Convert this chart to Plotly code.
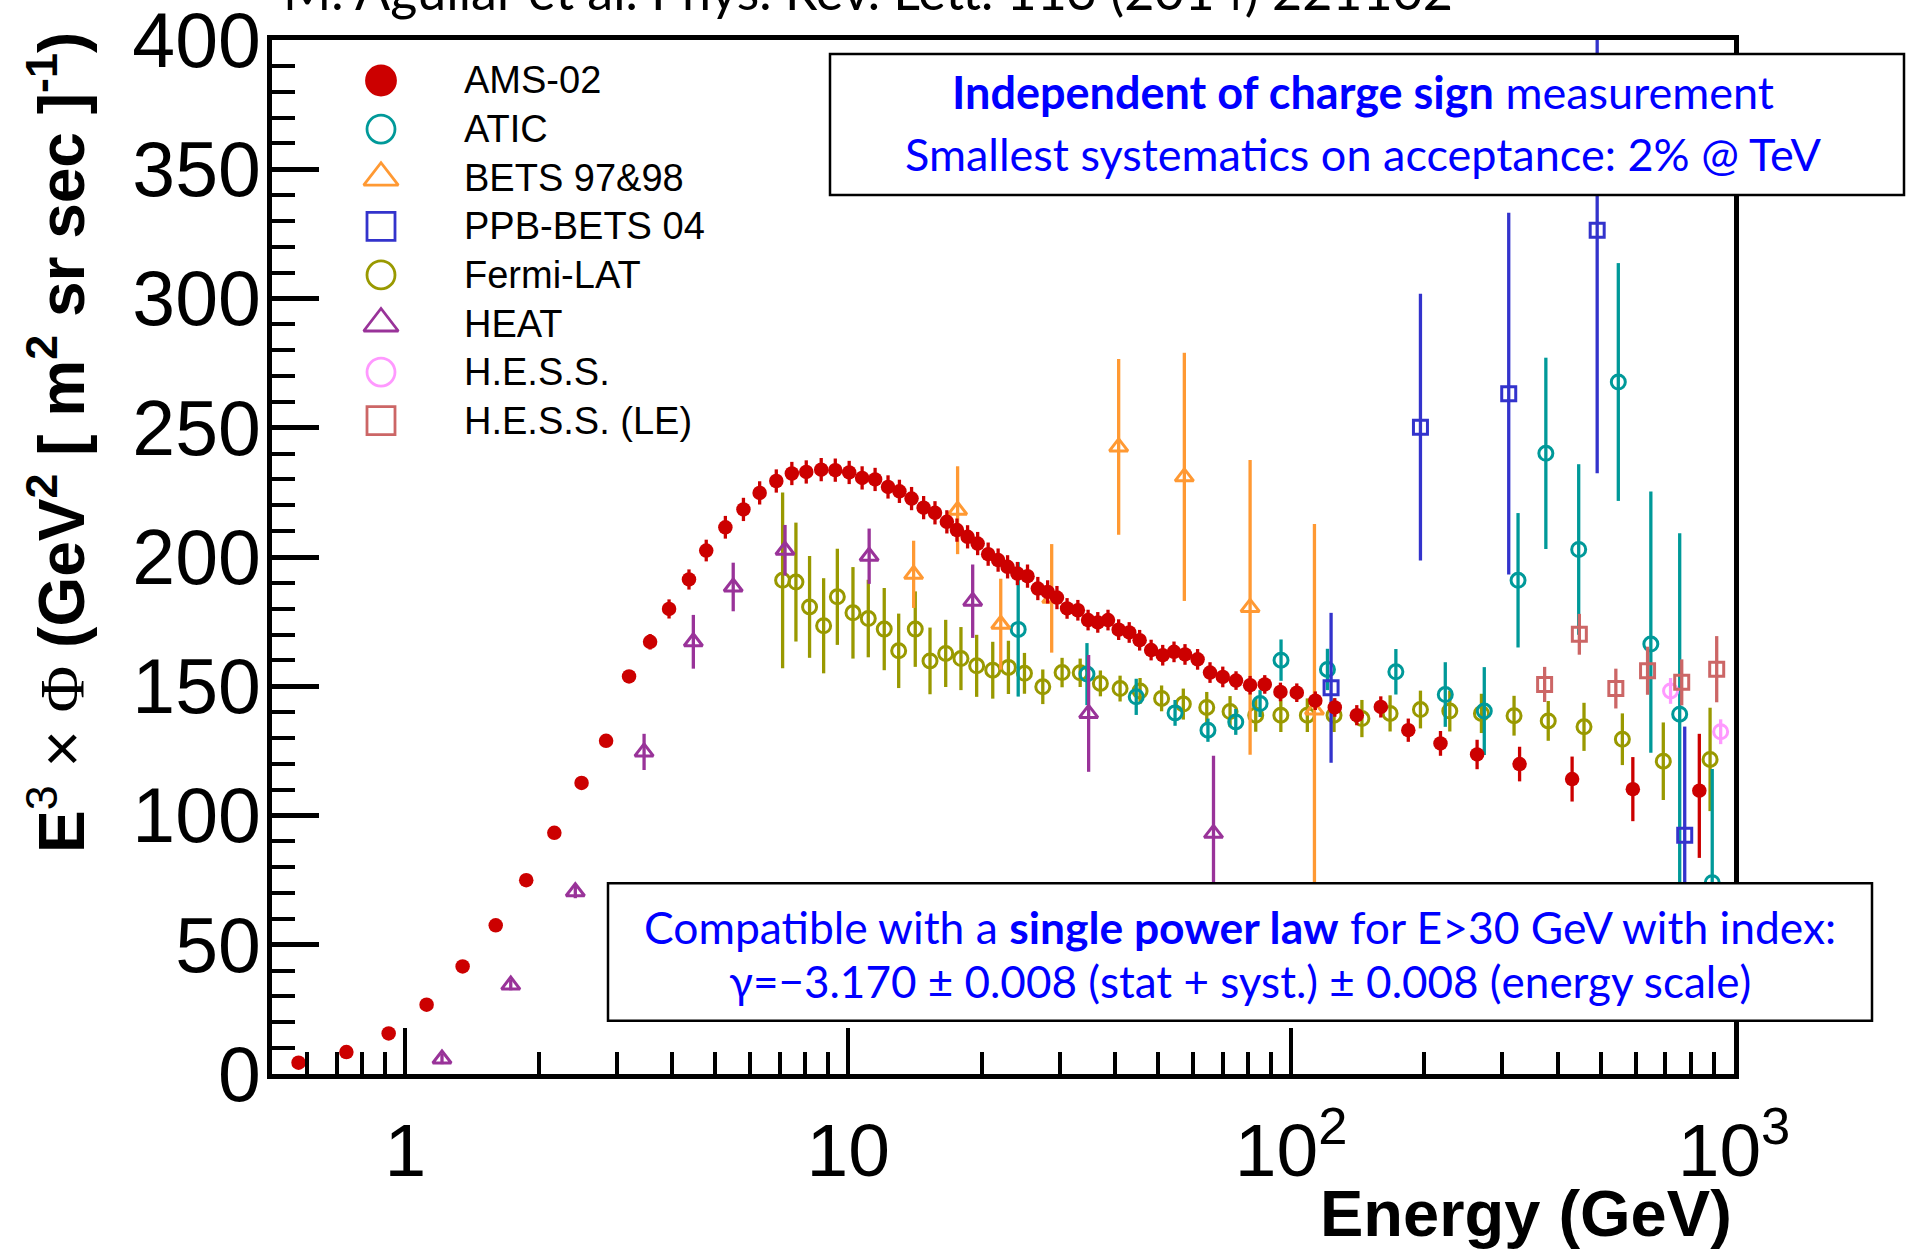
import plotly.graph_objects as go

# ---------------- data (E in GeV, E^3 x flux) ----------------
ams_e = [0.574, 0.736, 0.917, 1.117, 1.347, 1.60, 1.875, 2.17, 2.50, 2.84, 3.20, 3.57, 3.94, 4.37,
         4.78, 5.28, 5.80, 6.31, 6.88, 7.46, 8.04, 8.69, 9.35, 10.05, 10.75, 11.5, 12.3, 13.05,
         13.9, 14.8, 15.7, 16.7, 17.6, 18.6, 19.6, 20.7, 21.8, 22.9, 24.1, 25.4, 26.8, 28.2, 29.6,
         31.2, 33.0, 34.8, 36.6, 38.6, 40.8, 43.1, 45.5, 48.3, 51.3, 54.4, 57.6, 61.5, 65.6, 70.1,
         75.1, 80.8, 87.2, 94.6, 103, 113.4, 125.5, 140.7, 159.4, 183.9, 217.4, 263, 328, 431, 591, 835]
ams_v = [4.4, 8.5, 15.7, 26.8, 41.6, 57.5, 75.0, 93.3, 112.6, 128.9, 153.8, 167.2, 179.9, 191.3,
         202.5, 211.5, 218.4, 224.8, 229.4, 232.3, 232.9, 233.8, 233.6, 232.7, 230.6, 230.0, 227.1, 225.4,
         222.6, 219.1, 217.1, 213.6, 210.4, 207.8, 205.2, 201.1, 198.8, 196.2, 193.6, 192.6, 187.8, 186.5, 184.3,
         180.1, 179.4, 175.6, 174.7, 175.6, 171.9, 170.8, 167.8, 164.0, 162.0, 163.3, 162.3, 160.4, 155.3, 153.6,
         152.2, 150.4, 150.7, 147.8, 147.5, 144.4, 141.8, 138.8, 142.0, 133.0, 127.9, 123.6, 119.9, 114.1, 110.2, 109.6]
ams_err_up = [1.5, 1.5, 1.5, 1.5, 1.5, 1.5, 1.5, 1.5, 1.5, 1.8, 2.0, 3.0, 3.7, 3.9,
              4.2, 4.4, 4.5, 4.5, 4.5, 4.5, 4.5, 4.5, 4.5, 4.5, 4.5, 4.5, 4.5, 4.5,
              4.5, 4.5, 4.5, 4.5, 4.5, 4.5, 4.5, 4.5, 4.5, 4.5, 4.5, 4.5, 4.5, 4.5, 4.5,
              4.0, 4.0, 4.0, 4.0, 4.0, 4.0, 4.0, 4.0, 4.0, 4.0, 4.0, 4.0, 4.0, 4.0, 4.0,
              3.6, 3.6, 3.6, 3.6, 3.6, 3.6, 3.6, 3.9, 4.1, 4.5, 4.8, 5.7, 6.7, 8.7, 12.4, 22.0]
ams_err_down = [1.5, 1.5, 1.5, 1.5, 1.5, 1.5, 1.5, 1.5, 1.5, 1.8, 2.0, 3.0, 3.7, 3.9,
                4.2, 4.4, 4.5, 4.5, 4.5, 4.5, 4.5, 4.5, 4.5, 4.5, 4.5, 4.5, 4.5, 4.5,
                4.5, 4.5, 4.5, 4.5, 4.5, 4.5, 4.5, 4.5, 4.5, 4.5, 4.5, 4.5, 4.5, 4.5, 4.5,
                4.0, 4.0, 4.0, 4.0, 4.0, 4.0, 4.0, 4.0, 4.0, 4.0, 4.0, 4.0, 4.0, 4.0, 4.0,
                3.6, 3.6, 3.6, 3.6, 3.6, 3.6, 3.6, 3.9, 4.1, 4.5, 4.8, 5.7, 6.7, 8.7, 12.4, 26.0]

atic_e = [24.2, 34.6, 44.7, 54.7, 64.9, 75.0, 85.1, 94.9, 120.8, 172.4, 222.9, 273, 325.4, 376, 446, 548, 649, 754, 893]
atic_v = [172.0, 154.7, 145.9, 139.7, 133.0, 136.2, 143.3, 160.1, 156.5, 155.6, 146.8, 140.4, 191.0, 240.1, 202.9, 267.7, 166.3, 139.2, 74.0]
atic_err_up = [26, 12, 7, 5, 4.5, 5, 5.2, 8, 8, 8.8, 12.5, 17, 26, 37, 33, 46, 59, 70, 44]
atic_err_down = [26, 12, 7, 5, 4.5, 5, 5.2, 8, 8, 8.8, 12.5, 17, 26, 37, 33, 46, 42, 70, 44]

bets_e = [14.05, 17.66, 22.1, 28.8, 40.8, 57.4, 80.8, 112.9]
bets_v = [193.3, 218.1, 174.0, 184.0, 242.6, 231.0, 180.5, 140.8]
bets_err = [13, 17, 17.6, 21, 34, 48, 57, 72]

ppb_e = [123.1, 195.9, 310, 491, 774]
ppb_v = [149.4, 250.2, 263.2, 326.4, 92.4]
ppb_err = [29, 51.6, 70, 94, 42]

fermi_e = [7.11, 7.62, 8.18, 8.80, 9.45, 10.25, 11.1, 12.06, 13.0, 14.17, 15.3, 16.6, 17.97, 19.5,
           21.2, 23.0, 25.0, 27.5, 30.4, 33.4, 37.1, 41.1, 45.6, 51.0, 57.1, 64.5, 72.8, 83.2,
           94.8, 108.8, 125, 144.5, 167.3, 195.9, 228.2, 269, 318.7, 380.7, 458.5, 559.7, 692.4, 883]
fermi_v = [191.0, 190.3, 180.7, 173.4, 184.6, 178.4, 176.2, 172.1, 163.7, 172.1, 159.8, 162.7, 160.7, 157.9,
           156.2, 157.3, 155.0, 149.8, 155.3, 155.2, 151.1, 149.1, 148.2, 145.3, 143.1, 141.8, 140.2, 138.8,
           138.8, 138.8, 138.8, 137.5, 139.5, 141.0, 140.4, 139.5, 138.6, 136.6, 134.3, 129.5, 121.0, 121.7]
fermi_err = [34, 23, 19.7, 18.4, 18.6, 17.7, 15, 15.9, 14.4, 14.6, 12.9, 13, 12.2, 12,
             11, 10.3, 7.9, 6.7, 5.7, 5.5, 5, 5, 5, 5, 6, 6, 6, 6.4,
             6.5, 6.5, 6.5, 7.2, 7, 7.3, 7.9, 7.6, 7.7, 7.7, 9.3, 10, 15, 20]

heat_e = [1.21, 1.73, 2.42, 3.46, 4.47, 5.50, 7.20, 11.15, 19.1, 34.9, 66.8]
heat_v = [5.8, 34.4, 70.5, 124.6, 167.2, 188.4, 202.6, 200.3, 182.9, 139.5, 93.1]
heat_err = [2, 2, 2.5, 7, 10.4, 9.4, 9.8, 10.7, 14.2, 22.6, 30]

hess_e = [719, 933]
hess_v = [148.2, 132.4]
hess_err = [5, 4.8]

hessle_e = [373.6, 447.5, 541, 638, 762, 914]
hessle_v = [150.7, 170.1, 149.1, 156.0, 151.5, 156.6]
hessle_err = [6.8, 7.9, 7.7, 9.3, 8.9, 12.8]

legend_names = ["AMS-02", "ATIC", "BETS 97&amp;98", "PPB-BETS 04", "Fermi-LAT", "HEAT", "H.E.S.S.", "H.E.S.S. (LE)"]

x_tick_vals = [1, 10, 100, 1000]
x_tick_text = ["1", "10", "10<sup>2</sup>", "10<sup>3</sup>"]
x_minor_vals = [0.6, 0.7, 0.8, 0.9, 2, 3, 4, 5, 6, 7, 8, 9, 20, 30, 40, 50, 60, 70, 80, 90,
                200, 300, 400, 500, 600, 700, 800, 900]

# ---------------- styling ----------------
W, H = 1908, 1252
L, R, T, B = 272, 1734, 40, 1074   # plot-area pixel box

C_AMS, C_ATIC, C_BETS, C_PPB = "#CC0000", "#009999", "#FF9933", "#3333CC"
C_FERMI, C_HEAT, C_HESS, C_HESSLE = "#999900", "#993399", "#FF99FF", "#CC6666"

HELV = "Liberation Sans, Arial, Helvetica, sans-serif"
CALI = "Lato, Open Sans, sans-serif"


def px(x):
    return (x - L) / (R - L)


def py(y):
    return (B - y) / (B - T)


fig = go.Figure()


def add_series(name, e, v, ep, em, color, symbol, size, lw):
    fig.add_trace(go.Scatter(
        x=e, y=v, mode="markers", name=name, showlegend=False,
        error_y=dict(type="data", array=ep, arrayminus=em, symmetric=False,
                     width=0, thickness=3.3, color=color),
        marker=dict(symbol=symbol, size=size, color=color,
                    line=dict(width=lw, color=color)),
    ))


add_series("Fermi-LAT", fermi_e, fermi_v, fermi_err, fermi_err, C_FERMI, "circle-open", 14, 3)
add_series("ATIC", atic_e, atic_v, atic_err_up, atic_err_down, C_ATIC, "circle-open", 14, 3)
add_series("BETS 97&98", bets_e, bets_v, bets_err, bets_err, C_BETS, "triangle-up-open", 16, 3)
add_series("PPB-BETS 04", ppb_e, ppb_v, ppb_err, ppb_err, C_PPB, "square-open", 14, 3)
add_series("HEAT", heat_e, heat_v, heat_err, heat_err, C_HEAT, "triangle-up-open", 16, 3)
add_series("H.E.S.S.", hess_e, hess_v, hess_err, hess_err, C_HESS, "circle-open", 14, 3)
add_series("H.E.S.S. (LE)", hessle_e, hessle_v, hessle_err, hessle_err, C_HESSLE, "square-open", 14, 3)
add_series("AMS-02", ams_e, ams_v, ams_err_up, ams_err_down, C_AMS, "circle", 14.5, 0)

# ---------------- manual legend (large symbols) on a hidden pixel axis ----------------
leg_colors = [C_AMS, C_ATIC, C_BETS, C_PPB, C_FERMI, C_HEAT, C_HESS, C_HESSLE]
leg_symbols = ["circle", "circle-open", "triangle-up-open", "square-open",
               "circle-open", "triangle-up-open", "circle-open", "square-open"]
leg_sizes = [29, 28, 30, 28, 28, 30, 28, 28]
leg_x = 381
leg_y0, leg_dy = 80.5, 48.6
for i, nm in enumerate(legend_names):
    yy = leg_y0 + i * leg_dy
    fig.add_trace(go.Scatter(
        x=[leg_x], y=[yy], xaxis="x2", yaxis="y2", mode="markers", showlegend=False,
        hoverinfo="skip",
        marker=dict(symbol=leg_symbols[i], size=leg_sizes[i], color=leg_colors[i],
                    line=dict(width=2.8, color=leg_colors[i])),
    ))
    fig.add_annotation(x=px(462), y=py(yy), xref="paper", yref="paper", text=nm,
                       showarrow=False, xanchor="left", yanchor="middle",
                       font=dict(family=HELV, size=38, color="black"))

# ---------------- text boxes ----------------
fig.add_shape(type="rect", xref="paper", yref="paper", x0=px(830), x1=px(1904), y0=py(195), y1=py(54),
              fillcolor="white", line=dict(color="black", width=2.5), layer="above")
fig.add_shape(type="rect", xref="paper", yref="paper", x0=px(608), x1=px(1872), y0=py(1020.7), y1=py(883.3),
              fillcolor="white", line=dict(color="black", width=2.5), layer="above")

box_lines = [
    ("<b>Independent of charge sign</b> measurement", 1363, 92, 45),
    ("Smallest systematics on acceptance: 2% @ TeV", 1363, 154, 45),
    ("Compatible with a <b>single power law</b> for E&gt;30 GeV with index:", 1240, 926, 44.4),
    ("γ=−3.170 ± 0.008 (stat + syst.) ± 0.008 (energy scale)", 1240, 981, 44),
]
for txt, xc, yc, fs in box_lines:
    fig.add_annotation(x=px(xc), y=py(yc), xref="paper", yref="paper", text=txt, showarrow=False,
                       xanchor="center", yanchor="middle",
                       font=dict(family=CALI, size=fs, color="#0000FF"))

# cropped reference line at the very top
fig.add_annotation(x=px(868), y=py(-10), xref="paper", yref="paper",
                   text="M. Aguilar et al. Phys. Rev. Lett. 113 (2014) 221102", showarrow=False,
                   xanchor="center", yanchor="middle", font=dict(family=CALI, size=52, color="black"))

# axis titles
fig.add_annotation(x=px(1734), y=py(1213), xref="paper", yref="paper", text="<b>Energy (GeV)</b>",
                   showarrow=False, xanchor="right", yanchor="middle",
                   font=dict(family=HELV, size=65, color="black"))
fig.add_annotation(
    x=px(57), y=py(443), xref="paper", yref="paper", textangle=-90, showarrow=False,
    xanchor="center", yanchor="middle",
    text=("<b>E</b><sup>3</sup> × <span style='font-family:Liberation Serif, Times New Roman, serif'>Φ</span>"
          " <b>(GeV<sup>2</sup> [ m<sup>2</sup> sr sec ]<sup>-1</sup>)</b>"),
    font=dict(family=HELV, size=64, color="black"))

# ---------------- axes ----------------
fig.update_layout(
    width=W, height=H, margin=dict(l=L, r=W - R, t=T, b=H - B, pad=0, autoexpand=False),
    paper_bgcolor="white", plot_bgcolor="white", showlegend=False,
    xaxis=dict(type="log", range=[-0.30103, 3], showgrid=False, zeroline=False, automargin=False,
               showline=True, linewidth=4.5, linecolor="black", mirror=True,
               ticks="inside", ticklen=46, tickwidth=4, tickcolor="black",
               tickmode="array", tickvals=x_tick_vals, ticktext=x_tick_text,
               tickfont=dict(family=HELV, size=75, color="black"), ticklabelstandoff=7,
               ticklabeloverflow="allow",
               minor=dict(tickmode="array", tickvals=x_minor_vals, ticks="inside", ticklen=22,
                          tickwidth=4, tickcolor="black", showgrid=False)),
    yaxis=dict(range=[0, 400], showgrid=False, zeroline=False, automargin=False,
               showline=True, linewidth=4.5, linecolor="black", mirror=True,
               ticks="inside", ticklen=47, tickwidth=4.5, tickcolor="black",
               tick0=0, dtick=50, tickfont=dict(family=HELV, size=77, color="black"),
               ticklabelstandoff=-9, ticklabeloverflow="allow",
               minor=dict(dtick=10, ticks="inside", ticklen=23, tickwidth=4, tickcolor="black",
                          showgrid=False)),
    xaxis2=dict(overlaying="x", anchor="y2", range=[L, R], visible=False, automargin=False),
    yaxis2=dict(overlaying="y", anchor="x2", range=[B, T], visible=False, automargin=False),
)

fig.write_html("out.html")
